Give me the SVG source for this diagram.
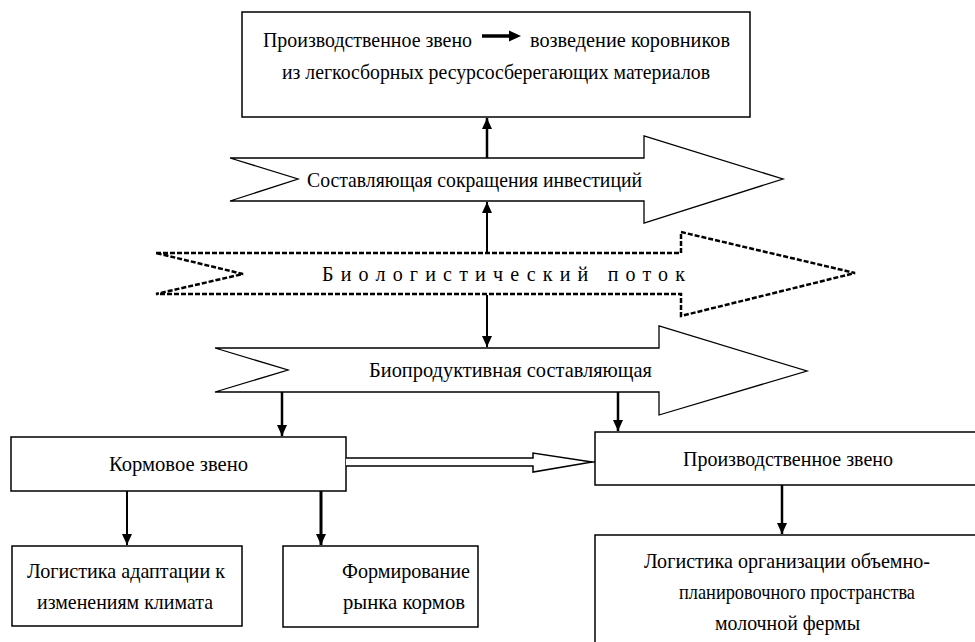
<svg xmlns="http://www.w3.org/2000/svg" width="975" height="642" viewBox="0 0 975 642">
<defs>
<style>
.box{fill:#fff;stroke:#000;stroke-width:1.5}
.arr{fill:#fff;stroke:#000;stroke-width:1.3;stroke-linejoin:miter}
.dash{fill:#fff;stroke:#000;stroke-width:2.5;stroke-dasharray:5 2}
.t{font-family:"Liberation Serif","Times New Roman",serif;font-size:22px;fill:#000}
.c{stroke:#000;fill:none}
</style>
<marker id="ah" markerUnits="userSpaceOnUse" markerWidth="12" markerHeight="14" refX="11" refY="5" orient="auto">
<path d="M0,0 L11,5 L0,10 Z" fill="#000"/>
</marker>
</defs>
<rect width="975" height="642" fill="#fff"/>

<g id="top-box">
<rect class="box" x="242" y="12" width="508" height="105"/>
<text class="t" x="263" y="47" textLength="209" lengthAdjust="spacingAndGlyphs">Производственное звено</text>
<line x1="482" y1="36" x2="511" y2="36" stroke="#000" stroke-width="3.5"/>
<path d="M509,30.5 L521,36 L509,41.5 Z" fill="#000"/>
<text class="t" x="530" y="47" textLength="200" lengthAdjust="spacingAndGlyphs">возведение коровников</text>
<text class="t" x="282" y="79" textLength="428" lengthAdjust="spacingAndGlyphs">из легкосборных ресурсосберегающих материалов</text>
</g>

<g id="arrow-investments">
<polygon class="arr" points="230,158 644,158 644,136 783,179 644,223 644,201 230,201 298,179"/>
<text class="t" x="307" y="187" textLength="335" lengthAdjust="spacingAndGlyphs">Составляющая сокращения инвестиций</text>
</g>

<g id="arrow-bioflow">
<polygon class="dash" points="156,253 681,253 681,232 855,273 681,316 681,294 156,294 243,274"/>
<text class="t" x="322" y="281" textLength="363" lengthAdjust="spacing" style="font-size:20px">Биологистический поток</text>
</g>

<g id="arrow-bioproductive">
<polygon class="arr" points="215,348 659,348 659,326 807,371 659,415 659,392 215,392 288,370"/>
<text class="t" x="369" y="377" textLength="283" lengthAdjust="spacingAndGlyphs">Биопродуктивная составляющая</text>
</g>

<g id="feed-box">
<rect class="box" x="11" y="437" width="335" height="54"/>
<text class="t" x="109" y="471" textLength="139" lengthAdjust="spacingAndGlyphs">Кормовое звено</text>
</g>

<g id="production-box">
<rect class="box" x="595" y="432" width="400" height="53"/>
<text class="t" x="683" y="466" textLength="210" lengthAdjust="spacingAndGlyphs">Производственное звено</text>
</g>

<g id="climate-box">
<rect class="box" x="12" y="546" width="230" height="80"/>
<text class="t" x="27" y="578" textLength="198" lengthAdjust="spacingAndGlyphs">Логистика адаптации к</text>
<text class="t" x="37" y="609" textLength="176" lengthAdjust="spacingAndGlyphs">изменениям климата</text>
</g>

<g id="market-box">
<rect class="box" x="283" y="546" width="195" height="81"/>
<text class="t" x="342" y="578" textLength="128" lengthAdjust="spacingAndGlyphs">Формирование</text>
<text class="t" x="343" y="609" textLength="122" lengthAdjust="spacingAndGlyphs">рынка кормов</text>
</g>

<g id="space-box">
<rect class="box" x="595" y="535" width="400" height="130"/>
<text class="t" x="644" y="568" textLength="286" lengthAdjust="spacingAndGlyphs">Логистика организации объемно-</text>
<text class="t" x="679" y="599" textLength="236" lengthAdjust="spacingAndGlyphs">планировочного пространства</text>
<text class="t" x="715" y="630" textLength="145" lengthAdjust="spacingAndGlyphs">молочной фермы</text>
</g>

<g id="connectors">
<line class="c" x1="487" y1="158" x2="487" y2="118" stroke-width="2.5" marker-end="url(#ah)"/>
<line class="c" x1="487" y1="253" x2="487" y2="202" stroke-width="2" marker-end="url(#ah)"/>
<line class="c" x1="487" y1="295" x2="487" y2="347" stroke-width="2" marker-end="url(#ah)"/>
<line class="c" x1="282" y1="392" x2="282" y2="436" stroke-width="2.5" marker-end="url(#ah)"/>
<line class="c" x1="618" y1="392" x2="618" y2="431" stroke-width="2.5" marker-end="url(#ah)"/>
<line class="c" x1="127" y1="491" x2="127" y2="545" stroke-width="2" marker-end="url(#ah)"/>
<line class="c" x1="321" y1="491" x2="321" y2="545" stroke-width="3" marker-end="url(#ah)"/>
<line class="c" x1="782" y1="485" x2="782" y2="534" stroke-width="2.5" marker-end="url(#ah)"/>
<path d="M346,458 L533,458 L533,453 L592,462 L533,472 L533,466 L346,466" fill="#fff" stroke="#000" stroke-width="1.5"/>
<line class="c" x1="590" y1="462" x2="595" y2="462" stroke-width="1.5"/>
</g>
</svg>
